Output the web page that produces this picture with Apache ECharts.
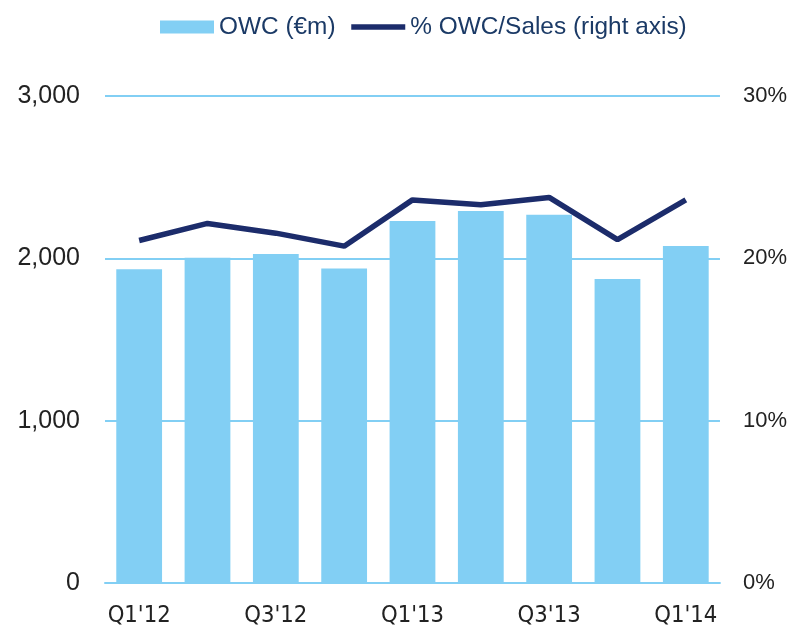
<!DOCTYPE html>
<html>
<head>
<meta charset="utf-8">
<script src="https://cdn.jsdelivr.net/npm/echarts@6/dist/echarts.min.js"></script>
<style>
  html, body { margin: 0; padding: 0; background: #fff; }
  #main { width: 790px; height: 628px; }
</style>
</head>
<body>
<div id="main"></div>
<script>
// quarters on the x axis
var quarters = ["Q1'12", "Q2'12", "Q3'12", "Q4'12", "Q1'13", "Q2'13", "Q3'13", "Q4'13", "Q1'14"];
// OWC in EUR m (left axis)
var owc = [1932, 2003, 2026, 1938, 2230, 2291, 2268, 1873, 2076];
// OWC / sales in % (right axis)
var owcSales = [21.1, 22.15, 21.55, 20.75, 23.6, 23.3, 23.75, 21.15, 23.6];

var chart = echarts.init(document.getElementById("main"));
var labelFont = "'Liberation Sans Narrow', 'DejaVu Sans Condensed', Arial, sans-serif";
var textFont = "'Liberation Sans', Arial, sans-serif";

var option = {
  animation: false,
  legend: {
    top: 10,
    left: 155,
    itemGap: 13,
    itemWidth: 54,
    itemHeight: 13,
    textStyle: { fontSize: 24.4, color: "#1b3a66", fontFamily: textFont },
    data: [
      { name: "OWC (€m)", icon: "rect" },
      {
        name: "% OWC/Sales (right axis)",
        itemStyle: { opacity: 0 },
        lineStyle: { width: 5.5, color: "#1c2c6b" }
      }
    ]
  },
  grid: { left: 105, right: 70, top: 96, bottom: 45 },
  xAxis: {
    type: "category",
    data: quarters,
    axisLine: { show: true, lineStyle: { color: "#82cff4", width: 2 } },
    axisTick: { show: false },
    axisLabel: {
      interval: 1,
      fontSize: 23.6,
      color: "#222",
      margin: 21,
      fontFamily: labelFont
    }
  },
  yAxis: [
    {
      type: "value",
      min: 0,
      max: 3000,
      interval: 1000,
      axisLine: { show: false },
      axisTick: { show: false },
      splitLine: { lineStyle: { color: "#82cff4", width: 2 } },
      axisLabel: {
        fontSize: 25,
        color: "#222",
        margin: 25,
        fontFamily: textFont,
        formatter: function (v) { return v.toLocaleString("en-US"); }
      }
    },
    {
      type: "value",
      min: 0,
      max: 30,
      interval: 10,
      axisLine: { show: false },
      axisTick: { show: false },
      splitLine: { show: false },
      axisLabel: {
        fontSize: 22,
        color: "#222",
        margin: 23,
        fontFamily: textFont,
        formatter: "{value}%"
      }
    }
  ],
  series: [
    {
      name: "OWC (€m)",
      type: "bar",
      data: owc,
      barCategoryGap: "33%",
      itemStyle: { color: "#82cff4" }
    },
    {
      name: "% OWC/Sales (right axis)",
      type: "line",
      yAxisIndex: 1,
      data: owcSales,
      symbol: "none",
      lineStyle: { color: "#1c2c6b", width: 5.5 },
      itemStyle: { color: "#1c2c6b" }
    }
  ]
};

chart.setOption(option);
</script>
</body>
</html>
